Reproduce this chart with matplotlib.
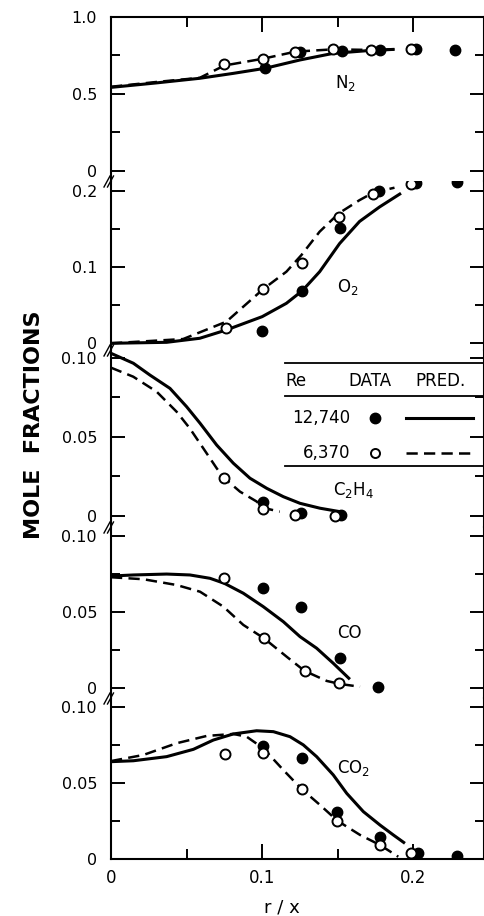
import matplotlib.pyplot as plt
from matplotlib.lines import Line2D

# ---- values ----
# N2
n2_open_x = [0.075, 0.1005, 0.122, 0.147, 0.172, 0.1985]
n2_open_y = [0.693, 0.729, 0.775, 0.790, 0.786, 0.790]
n2_fill_x = [0.102, 0.125, 0.153, 0.178, 0.2017, 0.2277]
n2_fill_y = [0.667, 0.775, 0.778, 0.786, 0.790, 0.786]
n2_solid_x = [0.0, 0.030, 0.0587, 0.0809, 0.102, 0.125, 0.147, 0.169, 0.1875]
n2_solid_y = [0.543, 0.572, 0.602, 0.634, 0.667, 0.721, 0.764, 0.781, 0.790]
n2_dash_x = [0.0, 0.030, 0.0587, 0.075, 0.1005, 0.122, 0.147, 0.172, 0.1875]
n2_dash_y = [0.547, 0.578, 0.605, 0.685, 0.729, 0.775, 0.790, 0.786, 0.790]

# O2
o2_open_x = [0.0763, 0.1005, 0.126, 0.1507, 0.1736, 0.1985]
o2_open_y = [0.0205, 0.0709, 0.105, 0.166, 0.1957, 0.2088]
o2_fill_x = [0.100, 0.1265, 0.1516, 0.177, 0.2017, 0.2286]
o2_fill_y = [0.0166, 0.069, 0.152, 0.200, 0.210, 0.2114]
o2_solid_x = [0.0, 0.0368, 0.0587, 0.0763, 0.100, 0.116, 0.1265, 0.138, 0.1512, 0.1644, 0.1776, 0.1918]
o2_solid_y = [0.0, 0.0013, 0.0066, 0.0175, 0.035, 0.0525, 0.069, 0.094, 0.131, 0.160, 0.179, 0.197]
o2_dash_x = [0.0, 0.0477, 0.0763, 0.1005, 0.116, 0.126, 0.138, 0.1507, 0.1644, 0.1736, 0.1875]
o2_dash_y = [0.0, 0.0056, 0.0284, 0.0709, 0.094, 0.116, 0.1466, 0.1707, 0.188, 0.198, 0.2043]

# C2H4
c2h4_open_x = [0.0746, 0.1005, 0.1215, 0.1479]
c2h4_open_y = [0.024, 0.0042, 0.0004, 0.0]
c2h4_fill_x = [0.1005, 0.1255, 0.1523]
c2h4_fill_y = [0.0089, 0.0015, 0.0004]
c2h4_solid_x = [0.0, 0.0148, 0.0258, 0.039, 0.050, 0.0589, 0.0699, 0.0809, 0.0919, 0.103, 0.114, 0.125, 0.1382, 0.1515]
c2h4_solid_y = [0.1028, 0.0965, 0.089, 0.0806, 0.069, 0.0585, 0.0447, 0.0332, 0.0237, 0.0173, 0.012, 0.0078, 0.0047, 0.0025]
c2h4_dash_x = [0.0, 0.0147, 0.0302, 0.0434, 0.0521, 0.061, 0.0699, 0.0746, 0.0853, 0.0964, 0.1005, 0.1116]
c2h4_dash_y = [0.0937, 0.088, 0.0785, 0.0658, 0.0553, 0.0427, 0.030, 0.024, 0.0152, 0.0089, 0.005, 0.0025]

# CO
co_open_x = [0.0748, 0.1012, 0.128, 0.1505]
co_open_y = [0.0722, 0.0328, 0.0114, 0.0033]
co_fill_x = [0.1005, 0.1259, 0.1516, 0.1769]
co_fill_y = [0.0657, 0.0536, 0.0201, 0.001]
co_solid_x = [0.0, 0.0148, 0.0368, 0.0522, 0.0655, 0.075, 0.0875, 0.1007, 0.114, 0.125, 0.136, 0.147, 0.158]
co_solid_y = [0.0737, 0.0744, 0.075, 0.0744, 0.0722, 0.0689, 0.0624, 0.0536, 0.0437, 0.0339, 0.0263, 0.0164, 0.0059]
co_dash_x = [0.0, 0.0214, 0.0434, 0.0589, 0.0743, 0.0875, 0.1012, 0.1162, 0.128, 0.1427, 0.1515, 0.1647]
co_dash_y = [0.0729, 0.0716, 0.0678, 0.0634, 0.0536, 0.0416, 0.0328, 0.0207, 0.0114, 0.0048, 0.0028, 0.001]

# CO2
co2_open_x = [0.0752, 0.1005, 0.126, 0.1496, 0.1776, 0.1985]
co2_open_y = [0.0689, 0.0694, 0.046, 0.0252, 0.0092, 0.0037]
co2_fill_x = [0.1005, 0.1265, 0.1496, 0.1776, 0.2029, 0.2287]
co2_fill_y = [0.0742, 0.0665, 0.0307, 0.0147, 0.0037, 0.002]
co2_solid_x = [0.0, 0.0148, 0.0368, 0.0545, 0.0677, 0.0809, 0.0963, 0.1074, 0.1184, 0.1272, 0.136, 0.147, 0.1559, 0.1669, 0.1779, 0.1867, 0.1944]
co2_solid_y = [0.0639, 0.0645, 0.0672, 0.072, 0.0781, 0.0821, 0.0842, 0.0836, 0.0803, 0.0749, 0.0672, 0.0552, 0.0431, 0.0311, 0.0223, 0.0158, 0.0103]
co2_dash_x = [0.0, 0.0214, 0.0434, 0.0633, 0.0809, 0.0897, 0.1007, 0.114, 0.126, 0.1382, 0.1496, 0.1647, 0.1779, 0.19]
co2_dash_y = [0.0643, 0.0683, 0.076, 0.0808, 0.0821, 0.0803, 0.0727, 0.0584, 0.046, 0.0355, 0.0252, 0.0158, 0.0092, 0.0015]

species = ['N$_2$', 'O$_2$', 'C$_2$H$_4$', 'CO', 'CO$_2$']
yticks_major = [[0, 0.5, 1.0], [0, 0.1, 0.2], [0, 0.05, 0.10], [0, 0.05, 0.10], [0, 0.05, 0.10]]
yticklabels = [['0', '0.5', '1.0'], ['0', '0.1', '0.2'], ['0', '0.05', '0.10'],
               ['0', '0.05', '0.10'], ['0', '0.05', '0.10']]
yticks_minor = [[0.25, 0.75], [0.05, 0.15], [0.025, 0.075], [0.025, 0.075], [0.025, 0.075]]
xticks_major = [0, 0.1, 0.2]
xticks_minor = [0.05, 0.15]
xticklabels = ['0', '0.1', '0.2']
re_labels = ['12,740', '6,370']

series = [
    (n2_open_x, n2_open_y, n2_fill_x, n2_fill_y, n2_solid_x, n2_solid_y, n2_dash_x, n2_dash_y),
    (o2_open_x, o2_open_y, o2_fill_x, o2_fill_y, o2_solid_x, o2_solid_y, o2_dash_x, o2_dash_y),
    (c2h4_open_x, c2h4_open_y, c2h4_fill_x, c2h4_fill_y, c2h4_solid_x, c2h4_solid_y, c2h4_dash_x, c2h4_dash_y),
    (co_open_x, co_open_y, co_fill_x, co_fill_y, co_solid_x, co_solid_y, co_dash_x, co_dash_y),
    (co2_open_x, co2_open_y, co2_fill_x, co2_fill_y, co2_solid_x, co2_solid_y, co2_dash_x, co2_dash_y),
]

# ---- layout (pixel rows of each panel, y limits, label spots) ----
W, H = 484, 916
panel_px = [(17, 181), (181, 350), (350, 527), (527, 698), (698, 859)]
ylims = [(-0.065, 1.0), (-0.0088, 0.2131), (-0.0072, 0.1049), (-0.0064, 0.1059), (0.0, 0.1057)]
label_xy = [(0.148, 0.57), (0.1495, 0.074), (0.147, 0.0163), (0.1495, 0.0366), (0.1495, 0.0598)]
x_left, x_right = 111, 483.5

plt.rcParams['font.family'] = 'DejaVu Sans'
fig = plt.figure(figsize=(W / 100, H / 100), dpi=100)

dash = (0, (4.5, 2.5))
axes = []
for i, (t, b) in enumerate(panel_px):
    ax = fig.add_axes([x_left / W, 1 - b / H, (x_right - x_left) / W, (b - t) / H])
    ox, oy, fx, fy, sx, sy, dx, dy = series[i]
    ax.plot(sx, sy, color='black', lw=2.2, solid_capstyle='butt', solid_joinstyle='round', zorder=2)
    ax.plot(dx, dy, color='black', lw=1.8, linestyle=dash, zorder=2)
    ax.plot(fx, fy, 'o', color='black', ms=7.5, zorder=3)
    ax.plot(ox, oy, 'o', mfc='white', mec='black', mew=1.4, ms=7.2, zorder=4)
    ax.set_xlim(0, (x_right - x_left) / 1512)
    ax.set_ylim(*ylims[i])
    ax.set_yticks(yticks_major[i])
    ax.set_yticklabels(yticklabels[i])
    ax.set_yticks(yticks_minor[i], minor=True)
    ax.set_xticks(xticks_major)
    ax.set_xticks(xticks_minor, minor=True)
    ax.tick_params(axis='y', which='both', direction='in', left=True, right=True,
                   width=1.4, labelsize=11.5, pad=10)
    ax.tick_params(axis='y', which='major', length=10)
    ax.tick_params(axis='y', which='minor', length=6.5)
    ax.tick_params(axis='x', which='both', direction='in', width=1.4, labelsize=12, pad=7,
                   top=(i == 0), bottom=(i == 4), labelbottom=(i == 4), labeltop=False)
    ax.tick_params(axis='x', which='major', length=10.5)
    ax.tick_params(axis='x', which='minor', length=7)
    if i == 4:
        ax.set_xticklabels(xticklabels)
    for s in ax.spines.values():
        s.set_linewidth(1.5)
    ax.spines['top'].set_visible(i == 0)
    ax.spines['bottom'].set_visible(i == 4)
    ax.patch.set_alpha(0)
    lx, ly = label_xy[i]
    ax.text(lx, ly, species[i], fontsize=12, ha='left', va='center')
    axes.append(ax)


def px(x, y):
    return x / W, 1 - y / H


# break marks on the left spine between panels
for yb in [181, 350, 527, 698]:
    for off in (0, 3.5):
        (x0, y0), (x1, y1) = px(104 + off, yb + 6), px(110 + off, yb - 5)
        fig.add_artist(Line2D([x0, x1], [y0, y1], color='black', lw=1.0))

# legend table
for yl in [363, 396, 466]:
    (x0, y0), (x1, _) = px(285, yl), px(484, yl)
    fig.add_artist(Line2D([x0, x1], [y0, y0], color='black', lw=1.3))
for txt, xl in [('Re', 285), ('DATA', 348), ('PRED.', 415)]:
    fig.text(*px(xl, 381), txt, fontsize=12, ha='left', va='center')
row_y = [418, 453]
for j, yr in enumerate(row_y):
    fig.text(*px(350, yr), re_labels[j], fontsize=12, ha='right', va='center')
    (x0, y0), (x1, _) = px(406, yr), px(473, yr)
    if j == 0:
        fig.add_artist(Line2D([px(375, yr)[0]], [y0], marker='o', color='black', ms=7.5, ls='none'))
        fig.add_artist(Line2D([x0, x1], [y0, y0], color='black', lw=2.2))
    else:
        fig.add_artist(Line2D([px(375, yr)[0]], [y0], marker='o', mfc='white', mec='black',
                              mew=1.4, ms=6.5, ls='none'))
        fig.add_artist(Line2D([x0, x1], [y0, y0], color='black', lw=1.8, linestyle=dash))

fig.text(*px(34, 425), 'MOLE  FRACTIONS', rotation=90, fontsize=16, fontweight='bold',
         ha='center', va='center')
fig.text(*px(282, 907), 'r / x', fontsize=13, ha='center', va='center')

fig.savefig('out.png', dpi=100)
